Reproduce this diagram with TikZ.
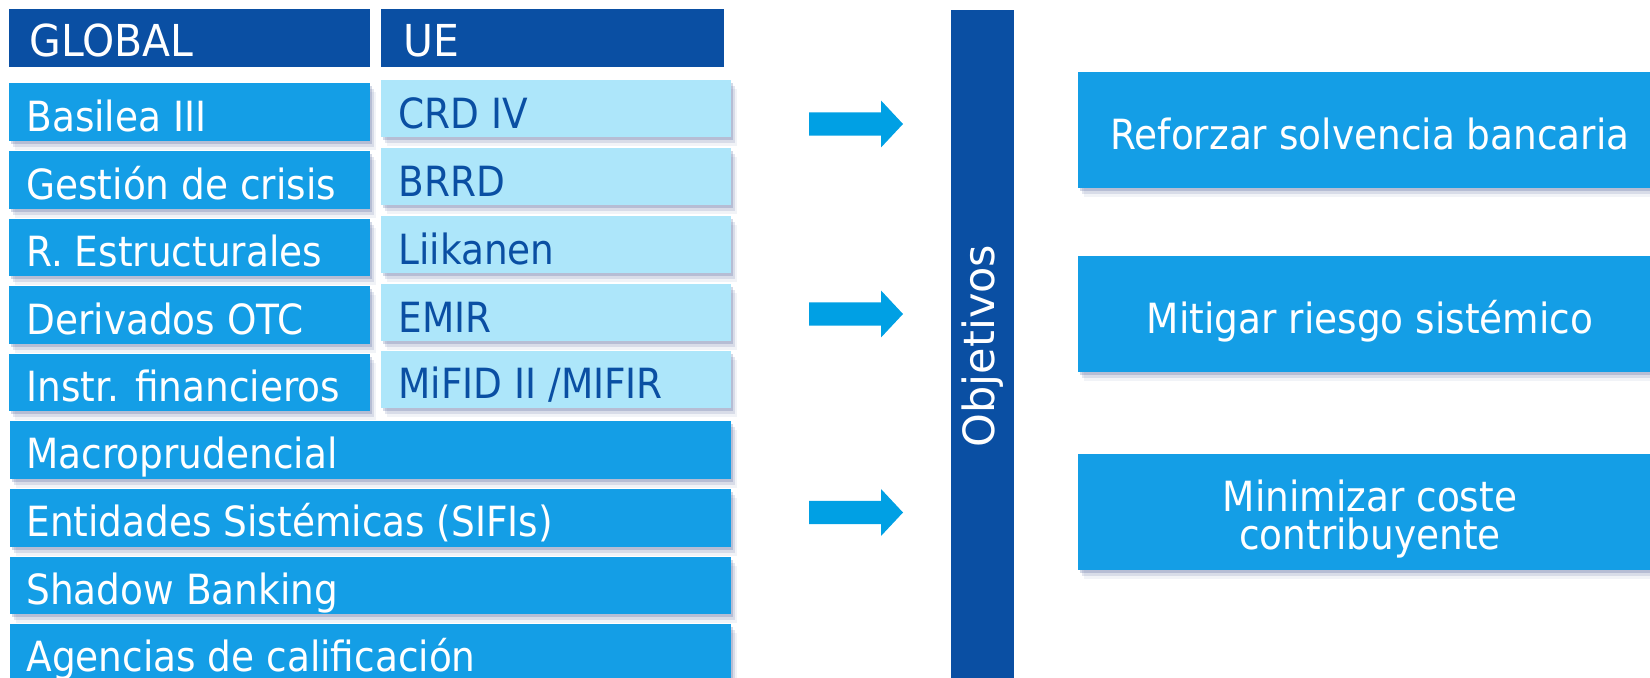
\documentclass[tikz,border=0pt]{standalone}
\usepackage{fontspec}
\setmainfont[FakeStretch=0.9]{DejaVu Sans}
\newfontfamily\hfont[FakeStretch=0.93]{DejaVu Sans}
\newfontfamily\ofont{DejaVu Sans}
\usetikzlibrary{shadows,calc}
\definecolor{dkblue}{RGB}{10,79,163}
\definecolor{midblue}{RGB}{20,158,230}
\definecolor{ltblue}{RGB}{173,230,250}
\definecolor{arrowc}{RGB}{0,160,228}
\definecolor{shc}{RGB}{60,80,140}
\tikzset{
  shd/.style={drop shadow={shadow xshift=1.0pt,shadow yshift=-1.5pt,opacity=0.22,fill=shc},
              drop shadow={shadow xshift=2.0pt,shadow yshift=-3.0pt,opacity=0.14,fill=shc},
              drop shadow={shadow xshift=3.0pt,shadow yshift=-4.5pt,opacity=0.07,fill=shc}},
  boxbase/.style={rectangle,inner sep=0pt,anchor=north west},
  hdr/.style={boxbase,fill=dkblue,minimum height=28.85pt},
  lbox/.style={boxbase,shd,fill=midblue,minimum width=180.5pt,minimum height=28.85pt},
  ubox/.style={boxbase,shd,fill=ltblue,minimum width=174.75pt,minimum height=28.5pt},
  wbox/.style={boxbase,shd,fill=midblue,minimum width=360.5pt,minimum height=28.85pt},
  rbox/.style={rectangle,inner sep=0pt,anchor=north,shd,fill=midblue,minimum width=292pt,minimum height=58pt},
  htxt/.style={anchor=base west,inner sep=0pt,text=white,font=\hfont\fontsize{22}{26}\selectfont},
  wtxt/.style={anchor=base west,inner sep=0pt,text=white,font=\fontsize{20.8}{24}\selectfont},
  btxt/.style={anchor=base west,inner sep=0pt,text=dkblue,font=\fontsize{20.8}{24}\selectfont},
  ctxt/.style={inner sep=0pt,text=white,align=center,font=\fontsize{20.8}{18.6}\selectfont},
  blockarrow/.style={fill=arrowc}
}
\begin{document}
\begin{tikzpicture}[x=0.5pt,y=-0.5pt]
\useasboundingbox (0,0) rectangle (1650,678);
% headers
\node[hdr,minimum width=180.5pt] (hg) at (9,9) {};
\node[hdr,minimum width=171.5pt] (hu) at (381,9) {};
\node[htxt] (hgt) at ($(hg.south west)+(20,-11.2)$) {GLOBAL};
\node[htxt] (hut) at ($(hu.south west)+(22,-11.2)$) {UE};
% left column boxes
\node[lbox] (g1) at (9,83) {};
\node[lbox] (g2) at (9,150.6) {};
\node[lbox] (g3) at (9,218.2) {};
\node[lbox] (g4) at (9,285.8) {};
\node[lbox] (g5) at (9,353.4) {};
\node[wbox] (g6) at (9.5,421) {};
\node[wbox] (g7) at (9.5,488.6) {};
\node[wbox] (g8) at (9.5,556.2) {};
\node[wbox] (g9) at (9.5,623.8) {};
% UE boxes
\node[ubox] (u1) at (381,80) {};
\node[ubox] (u2) at (381,147.75) {};
\node[ubox] (u3) at (381,215.5) {};
\node[ubox] (u4) at (381,283.25) {};
\node[ubox] (u5) at (381,351) {};
% texts
\node[wtxt] (g1t) at ($(g1.south west)+(17,-10)$) {Basilea III};
\node[wtxt] (g2t) at ($(g2.south west)+(17,-10)$) {Gestión de crisis};
\node[wtxt] (g3t) at ($(g3.south west)+(17,-10)$) {R. Estructurales};
\node[wtxt] (g4t) at ($(g4.south west)+(17,-10)$) {Derivados OTC};
\node[wtxt] (g5t) at ($(g5.south west)+(17,-10)$) {Instr. financieros};
\node[wtxt] (g6t) at ($(g6.south west)+(16.5,-10.5)$) {Macroprudencial};
\node[wtxt] (g7t) at ($(g7.south west)+(16.5,-10.5)$) {Entidades Sistémicas (SIFIs)};
\node[wtxt] (g8t) at ($(g8.south west)+(16.5,-10.5)$) {Shadow Banking};
\node[wtxt] (g9t) at ($(g9.south west)+(16.5,-10.5)$) {Agencias de calificación};
\node[btxt] (u1t) at ($(u1.south west)+(17,-9)$) {CRD IV};
\node[btxt] (u2t) at ($(u2.south west)+(17,-9)$) {BRRD};
\node[btxt] (u3t) at ($(u3.south west)+(17,-9)$) {Liikanen};
\node[btxt] (u4t) at ($(u4.south west)+(17,-9)$) {EMIR};
\node[btxt] (u5t) at ($(u5.south west)+(17,-10.5)$) {MiFID II /MIFIR};
% arrows
\foreach \c in {124,314,512.5}{
  \fill[blockarrow] (809,\c-11.7) -- (881,\c-11.7) -- (881,\c-23.5) -- (903,\c)
     -- (881,\c+23.5) -- (881,\c+11.7) -- (809,\c+11.7) -- cycle;
}
% objetivos bar
\node[boxbase,fill=dkblue,minimum width=31.5pt,minimum height=336pt] (bar) at (951,10) {};
\node[rotate=90,inner sep=0pt,text=white,font=\ofont\fontsize{21.5}{26}\selectfont] (bart) at (983,346) {Objetivos};
% right boxes
\node[rbox] (r1) at (1370,71.7) {};
\node[rbox] (r2) at (1370,256) {};
\node[rbox] (r3) at (1370,454) {};
\node[wtxt,anchor=base] (r1t) at ($(r1.north)+(0,78)$) {Reforzar solvencia bancaria};
\node[wtxt,anchor=base] (r2t) at ($(r2.north)+(0,77.5)$) {Mitigar riesgo sistémico};
\node[ctxt] (r3t) at ($(r3.north)+(0,65)$) {Minimizar coste\\contribuyente};
\end{tikzpicture}
\end{document}
